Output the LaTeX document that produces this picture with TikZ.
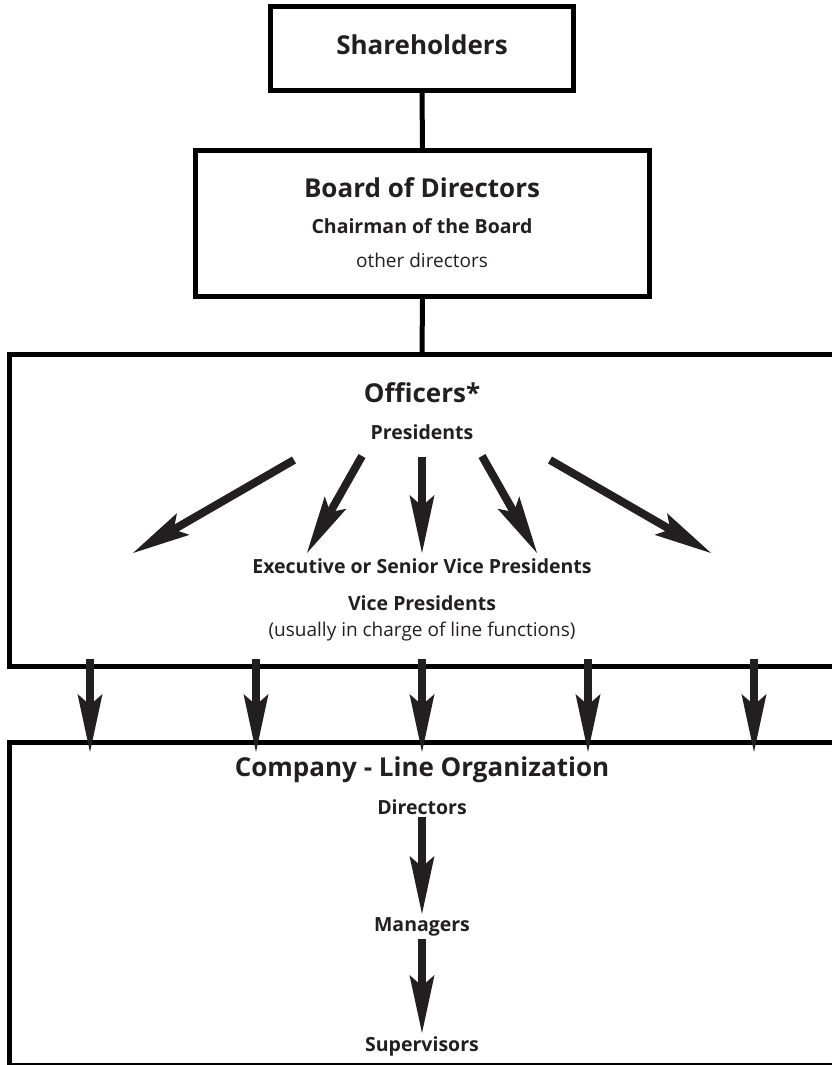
\documentclass[tikz,border=0pt]{standalone}
\usepackage{fontspec}
\setmainfont{Open Sans}
\usetikzlibrary{arrows.meta}
\definecolor{ink}{RGB}{35,31,32}
\begin{document}
\begin{tikzpicture}[x=1pt,y=1pt,yscale=-1,
    orgbox/.style={draw=black, line width=5pt, inner sep=0pt},
    link/.style={draw=black, line width=5pt},
    bigarrow/.style={draw=ink, line width=8pt,
        -{Stealth[length=58pt, width=25pt, inset=11pt, line width=0pt]}},
    title/.style={anchor=base, inner sep=3pt, text=ink, font=\fontsize{26}{30}\selectfont\bfseries},
    rank/.style={anchor=base, inner sep=3pt, text=ink, font=\fontsize{19.5}{23}\selectfont\bfseries},
    note/.style={anchor=base, inner sep=3pt, text=ink, font=\fontsize{19}{23}\selectfont}]
    \useasboundingbox (0,0) rectangle (832,1065);
    \clip (0,0) rectangle (832,1065);
    %Shape: Rectangle [id:share]
    \node [orgbox, minimum width=303pt, minimum height=83.5pt] (share) at (422,48.5) {};
    %Shape: Rectangle [id:board]
    \node [orgbox, minimum width=453.5pt, minimum height=146pt] (board) at (422.5,223.5) {};
    %Shape: Rectangle [id:officers]
    \node [orgbox, minimum width=825pt, minimum height=312pt] (officers) at (422,510.5) {};
    %Shape: Rectangle [id:company]
    \node [orgbox, minimum width=825pt, minimum height=323pt] (company) at (422,903.5) {};
    %Straight Lines [id:share-board]
    \draw [link] (share.south) -- (board.north);
    %Straight Lines [id:board-officers]
    \draw [link] (board.south) -- (officers.north);

    % Text Node
    \node [title] (shareT) at (422,55) {Shareholders};
    % Text Node
    \node [title] (boardT) at (422,197) {Board of Directors};
    % Text Node
    \node [rank] (chair) at (422,233) {Chairman of the Board};
    % Text Node
    \node [note] (others) at (422,267) {other directors};
    % Text Node
    \node [title] (officersT) at (422,402) {Officers*};
    % Text Node
    \node [rank] (pres) at (422,439) {Presidents};
    % Text Node
    \node [rank] (evp) at (422,573) {Executive or Senior Vice Presidents};
    % Text Node
    \node [rank] (vp) at (422,610) {Vice Presidents};
    % Text Node
    \node [note] (lineF) at (422,636.5) {(usually in charge of line functions)};
    % Text Node
    \node [title] (companyT) at (422,776.5) {Company - Line Organization};
    % Text Node
    \node [rank] (dir) at (422,814) {Directors};
    % Text Node
    \node [rank] (mgr) at (422,931) {Managers};
    % Text Node
    \node [rank] (sup) at (422,1051) {Supervisors};

    %Straight Lines [id:fan]
    \coordinate (f1) at (294,460);
    \coordinate (g1) at (133,553);
    \coordinate (f2) at (362,456);
    \coordinate (g2) at (307,553);
    \coordinate (f3) at (422,457);
    \coordinate (g3) at (422,553);
    \coordinate (f4) at (482,456);
    \coordinate (g4) at (537,553);
    \coordinate (f5) at (550,460);
    \coordinate (g5) at (711,553);
    \draw [bigarrow] (f1) -- (g1);
    \draw [bigarrow] (f2) -- (g2);
    \draw [bigarrow] (f3) -- (g3);
    \draw [bigarrow] (f4) -- (g4);
    \draw [bigarrow] (f5) -- (g5);

    %Straight Lines [id:down]
    \coordinate (d1) at (90,659);
    \coordinate (e1) at (90,752);
    \coordinate (d2) at (256,659);
    \coordinate (e2) at (256,752);
    \coordinate (d3) at (422,659);
    \coordinate (e3) at (422,752);
    \coordinate (d4) at (588,659);
    \coordinate (e4) at (588,752);
    \coordinate (d5) at (754,659);
    \coordinate (e5) at (754,752);
    \draw [bigarrow] (d1) -- (e1);
    \draw [bigarrow] (d2) -- (e2);
    \draw [bigarrow] (d3) -- (e3);
    \draw [bigarrow] (d4) -- (e4);
    \draw [bigarrow] (d5) -- (e5);

    %Straight Lines [id:line]
    \draw [bigarrow] (dir.south) -- (mgr.north);
    \draw [bigarrow] (mgr.south) -- (sup.north);
\end{tikzpicture}
\end{document}
